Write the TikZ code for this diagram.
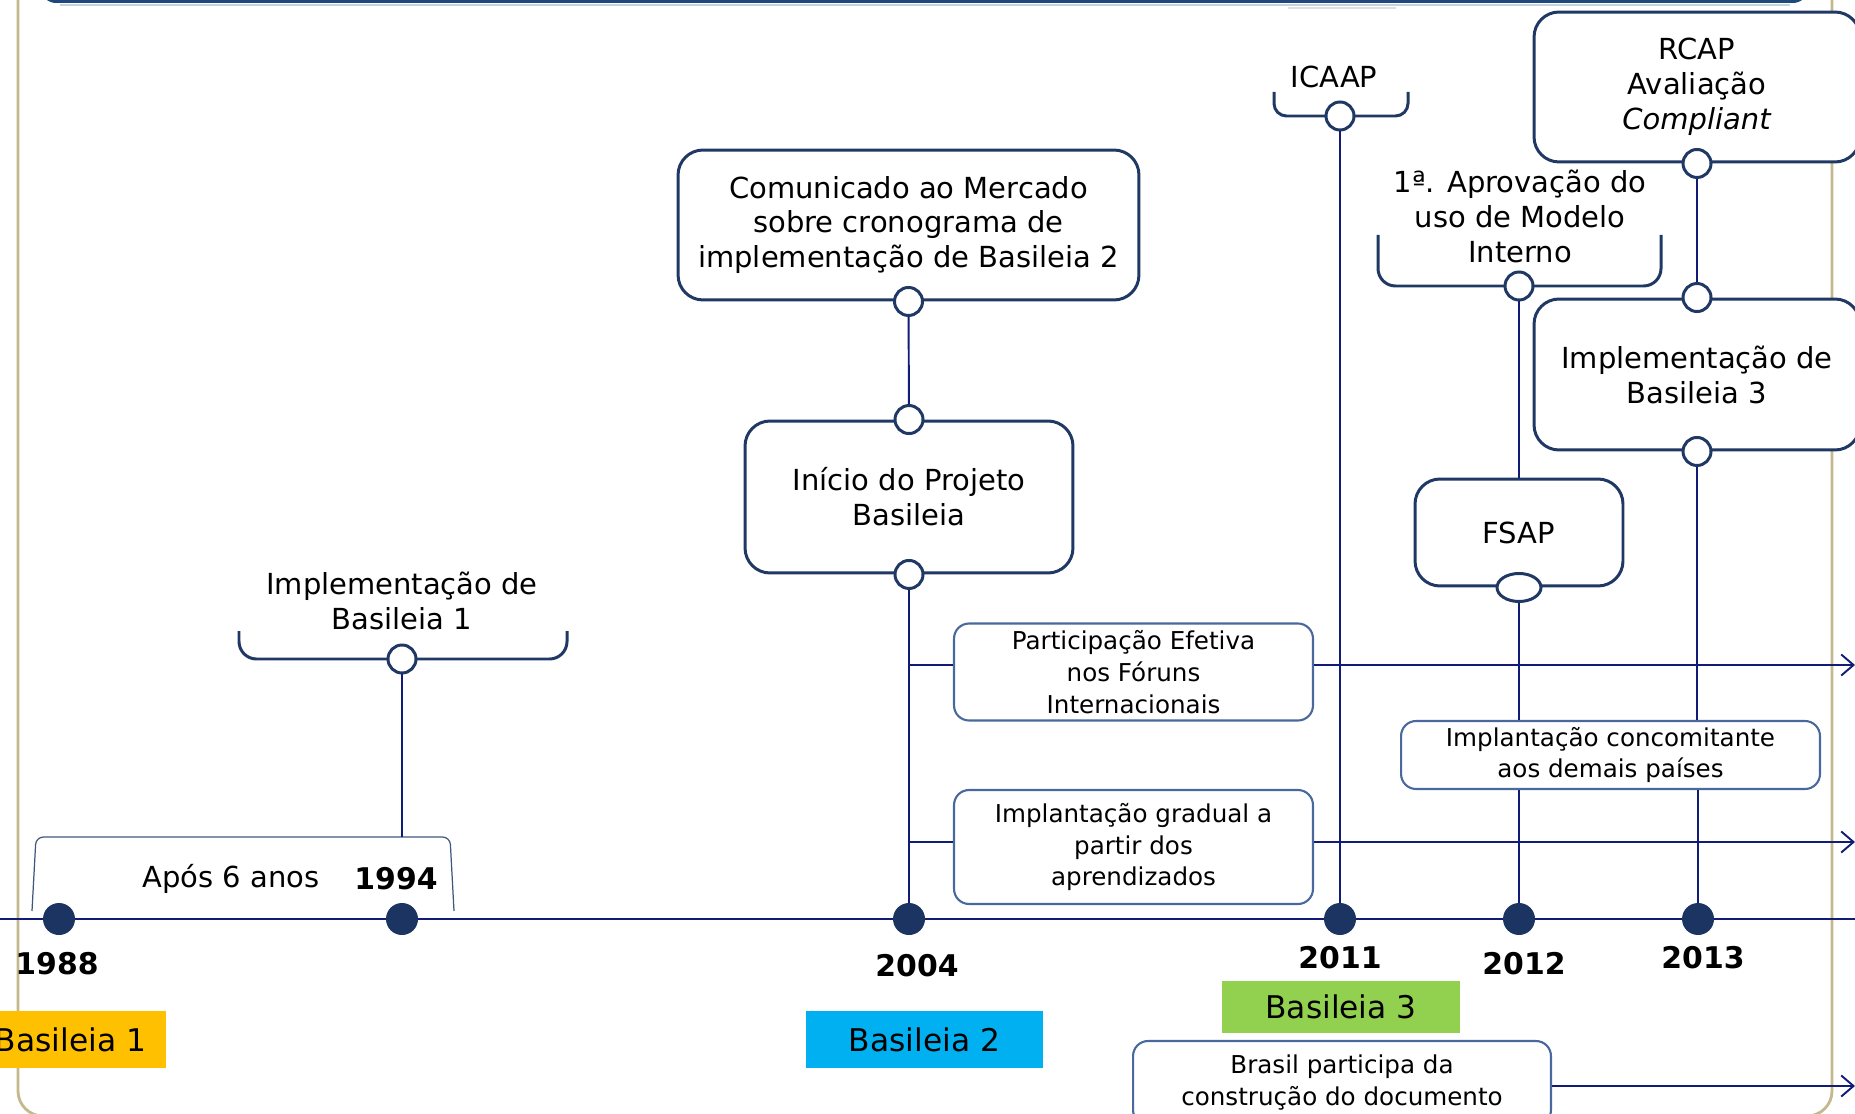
\documentclass[tikz,border=0pt]{standalone}
\usepackage{fontspec}
\setmainfont{DejaVu Sans}
\usepackage{tikz}
\usetikzlibrary{calc,arrows.meta,shapes.geometric}

\definecolor{navy}{RGB}{16,28,118}
\definecolor{boxblue}{RGB}{31,56,100}
\definecolor{lightbox}{RGB}{72,104,158}
\definecolor{dotblue}{RGB}{27,52,97}
\definecolor{tanline}{RGB}{196,184,140}
\definecolor{headblue}{RGB}{31,73,125}
\definecolor{byellow}{RGB}{255,192,0}
\definecolor{bcyan}{RGB}{0,176,240}
\definecolor{bgreen}{RGB}{146,208,80}

\newcommand\bigtxt{\fontsize{16.5}{19.9}\selectfont}
\newcommand\smalltxt{\fontsize{14}{18.2}\selectfont}
\newcommand\yeartxt{\fontsize{17}{20}\selectfont}
\newcommand\eratxt{\fontsize{17.8}{21}\selectfont}

\begin{document}
\begin{tikzpicture}[x=0.02cm,y=-0.02cm,
  >={Straight Barb[length=7pt,width=12pt,line width=1.1pt]},
  conn/.style={draw=navy,line width=1.1pt},
  timeline/.style={draw=navy,line width=1.4pt},
  bigbox/.style={draw=boxblue,line width=1.7pt,fill=white,rounded corners=0.5cm,
    align=center,inner sep=0pt,font=\bigtxt},
  smallbox/.style={draw=lightbox,line width=1.2pt,fill=white,rounded corners=0.3cm,
    align=center,inner sep=0pt,font=\smalltxt},
  ring/.style={circle,draw=boxblue,line width=1.7pt,fill=white,minimum size=0.56cm,inner sep=0pt},
  yeardot/.style={circle,fill=dotblue,minimum size=0.64cm,inner sep=0pt},
  yearlbl/.style={font=\yeartxt\bfseries,inner sep=0pt},
  era/.style={minimum height=1.14cm,font=\eratxt,inner sep=0pt},
  brace/.style={draw=boxblue,line width=1.7pt,rounded corners=0.35cm},
  eventtxt/.style={align=center,font=\bigtxt,inner sep=0pt}]
  % Configurable parameters
  \def\tly{919}
  \useasboundingbox (0,0) rectangle (1855,1114);
  %
  % Frame
  \draw[tanline,line width=1.6pt,rounded corners=0.5cm] (18,-40) rectangle (1832,1116);
  \fill[headblue,rounded corners=0.3cm] (41,-40) rectangle (1808,3);
  \draw[headblue!25,line width=0.8pt] (60,5) -- (1790,5);
  \draw[gray!25,line width=1pt] (1288,8) -- (1396,8);
  %
  % Timeline
  \coordinate (tlL) at (0,\tly);
  \coordinate (tlR) at (1855,\tly);
  \draw[timeline] (tlL) -- (tlR);
  \foreach \yr/\x in {1988/59,1994/402,2004/909,2011/1340,2012/1519,2013/1698}
    \node[yeardot] (d\yr) at (\x,\tly) {};
  \foreach \yr/\x/\y in {1988/57/964,1994/396/879,2004/917/966,2011/1340/958,2012/1524/964,2013/1703/958}
    \node[yearlbl] (y\yr) at (\x,\y) {\yr};
  %
  % Basileia 1
  \draw[boxblue!85,line width=0.7pt,rounded corners=0.15cm]
    (32,911) -- (36,837) -- (450,837) -- (454,911);
  \coordinate (br94) at (402,837);
  \node[eventtxt] (apos) at (231,879) {Após 6 anos};
  \draw[brace] (239,631) -- (239,659) -- (567,659) -- (567,631);
  \node[ring] (r94) at (402,659) {};
  \node[eventtxt] (impl1) at (402,601) {Implementação de\\Basileia 1};
  \draw[conn] (r94) -- (br94);
  %
  % Basileia 2
  \node[bigbox,minimum width=9.22cm,minimum height=3cm] (com) at (908.5,225)
    {Comunicado ao Mercado\\sobre cronograma de\\implementação de Basileia 2};
  \node[ring] (comB) at (com.south) {};
  \node[bigbox,minimum width=6.56cm,minimum height=3.04cm] (ini) at (909,497)
    {Início do Projeto\\Basileia};
  \node[ring] (iniT) at (ini.north) {};
  \node[ring] (iniB) at (ini.south) {};
  \draw[conn] (comB) -- (iniT);
  \draw[conn] (iniB) -- (d2004);
  %
  \coordinate (endP) at (1855,665);
  \coordinate (endG) at (1855,842);
  \node[smallbox,minimum width=7.18cm,minimum height=1.94cm] (part) at (1133.5,672)
    {Participação Efetiva\\nos Fóruns\\Internacionais};
  \node[smallbox,minimum width=7.18cm,minimum height=2.28cm] (grad) at (1133.5,847)
    {Implantação gradual a\\partir dos\\aprendizados};
  \draw[conn] (d2004 |- endP) -- (part.west |- endP);
  \draw[conn,->] (part.east |- endP) -- (endP);
  \draw[conn] (d2004 |- endG) -- (grad.west |- endG);
  \draw[conn,->] (grad.east |- endG) -- (endG);
  %
  % Basileia 3
  \node[eventtxt] (icaap) at (1334,77) {ICAAP};
  \draw[brace,rounded corners=0.25cm] (1274,92) -- (1274,116) -- (1408,116) -- (1408,92);
  \node[ring] (rIC) at (1340,116) {};
  \draw[conn] (rIC) -- (d2011);
  %
  \node[eventtxt] (aprov) at (1520,216) {1ª. Aprovação do\\uso de Modelo\\Interno};
  \draw[brace] (1378,235) -- (1378,286) -- (1661,286) -- (1661,235);
  \node[ring] (rAP) at (1519,286) {};
  \node[bigbox,minimum width=4.16cm,minimum height=2.14cm] (fsap) at (1519,532.5) {FSAP};
  \node[ring,ellipse,minimum width=0.88cm,minimum height=0.56cm] (fsapB) at (fsap.south) {};
  \draw[conn] (rAP) -- (fsap.north);
  %
  \node[bigbox,minimum width=6.52cm,minimum height=3cm] (rcap) at (1697,87)
    {RCAP\\Avaliação\\\textit{Compliant}};
  \node[ring] (rcapB) at (rcap.south) {};
  \node[bigbox,minimum width=6.52cm,minimum height=3.02cm] (imp3) at (1697,374.5)
    {Implementação de\\Basileia 3};
  \node[ring] (imp3T) at (imp3.north) {};
  \node[ring] (imp3B) at (imp3.south) {};
  \draw[conn] (rcapB) -- (imp3T);
  %
  \node[smallbox,minimum width=8.38cm,minimum height=1.36cm] (conc) at (1610.5,755)
    {Implantação concomitante\\aos demais países};
  \draw[conn] (fsapB) -- (fsapB |- conc.north);
  \draw[conn] (conc.south -| d2012) -- (d2012);
  \draw[conn] (imp3B) -- (imp3B |- conc.north);
  \draw[conn] (conc.south -| d2013) -- (d2013);
  %
  % Eras
  \node[era,fill=byellow,minimum width=3.82cm] (b1) at (70.5,1039.5) {Basileia 1};
  \node[era,fill=bcyan,minimum width=4.74cm] (b2) at (924.5,1039.5) {Basileia 2};
  \node[era,fill=bgreen,minimum width=4.76cm,minimum height=1.04cm] (b3) at (1341,1007) {Basileia 3};
  \node[smallbox,minimum width=8.36cm,minimum height=1.68cm] (bras) at (1342,1083)
    {Brasil participa da\\construção do documento};
  \coordinate (endB) at (1855,1086);
  \draw[conn,->] (bras.east |- endB) -- (endB);
  %
\end{tikzpicture}
\end{document}
